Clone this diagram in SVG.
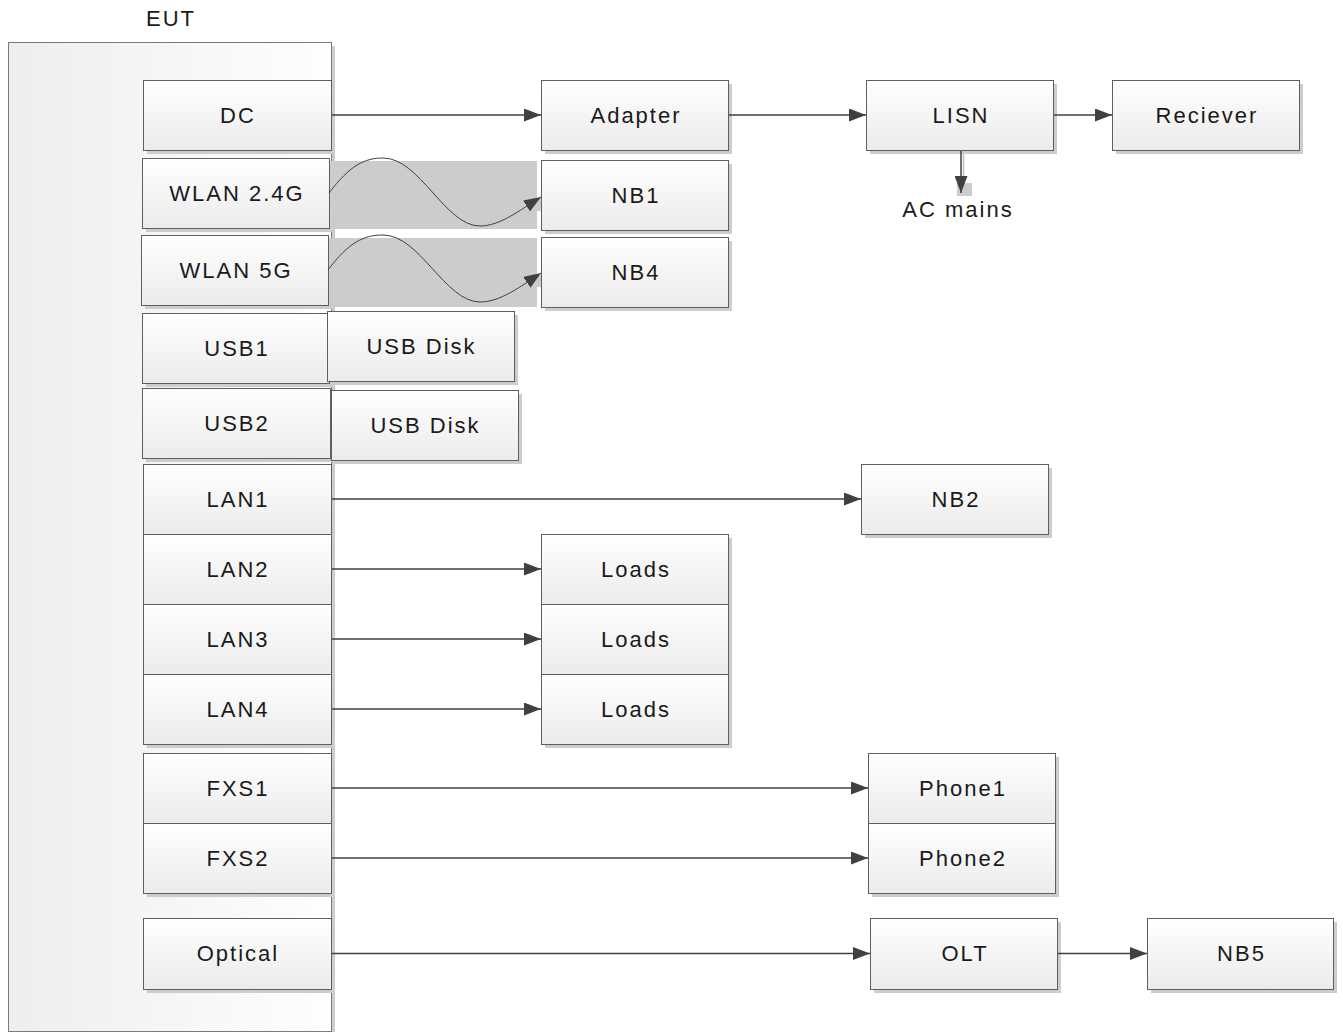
<svg xmlns="http://www.w3.org/2000/svg" width="1343" height="1032" viewBox="0 0 1343 1032">
<defs>
<linearGradient id="g" x1="0" y1="0" x2="0" y2="1"><stop offset="0" stop-color="#ffffff"/><stop offset="1" stop-color="#ebebeb"/></linearGradient>
<linearGradient id="ge" x1="0" y1="0" x2="1" y2="0"><stop offset="0" stop-color="#eeeeee"/><stop offset="1" stop-color="#fefefe"/></linearGradient>
<marker id="a" viewBox="0 0 17 13" refX="17" refY="6.5" markerWidth="17" markerHeight="13" markerUnits="userSpaceOnUse" orient="auto"><path d="M0,0 L17,6.5 L0,13 z" fill="#404040"/></marker>
<style>
.box{fill:url(#g);stroke:#5f5f5f;stroke-width:1}
.sh{fill:#cdcdcd}
.t{font-family:"Liberation Sans",Arial,sans-serif;font-size:22px;letter-spacing:2px;fill:#1a1a1a;text-anchor:middle}
.c{stroke:#404040;stroke-width:1.5;fill:none;marker-end:url(#a)}
.w{stroke:#404040;stroke-width:1;fill:none;marker-end:url(#a)}
.bg{fill:#cccccc}
</style>
</defs>
<rect width="1343" height="1032" fill="#ffffff"/>
<g id="EUT">
<rect class="sh" x="12" y="46" width="323" height="989"/>
<rect x="8.5" y="42.5" width="323" height="989" fill="url(#ge)" stroke="#7a7a7a" stroke-width="1"/>
<text class="t" x="171" y="26">EUT</text>
</g>
<g id="wave-bg">
<rect class="bg" x="329" y="161" width="208" height="68"/>
<rect class="bg" x="537" y="198" width="7" height="13"/>
<rect class="bg" x="328" y="238" width="209" height="69"/>
<rect class="bg" x="537" y="275" width="9" height="12"/>
<rect class="bg" x="957" y="183" width="15" height="13"/>
<line x1="963.5" y1="150" x2="963.5" y2="185" stroke="#bdbdbd" stroke-width="1.5"/>
</g>
<g id="DC"><rect class="sh" x="147" y="84" width="188" height="70"/><rect class="box" x="143.5" y="80.5" width="188" height="70"/><text class="t" x="238" y="123">DC</text></g>
<g id="WLAN24"><rect class="sh" x="146" y="162" width="187" height="70"/><rect class="box" x="142.5" y="158.5" width="187" height="70"/><text class="t" x="237" y="201">WLAN 2.4G</text></g>
<g id="WLAN5"><rect class="sh" x="145" y="239" width="187" height="70"/><rect class="box" x="141.5" y="235.5" width="187" height="70"/><text class="t" x="236" y="278">WLAN 5G</text></g>
<g id="USB1"><rect class="sh" x="146" y="317" width="187" height="70"/><rect class="box" x="142.5" y="313.5" width="187" height="70"/><text class="t" x="237" y="356">USB1</text></g>
<g id="USBDisk1"><rect class="sh" x="331" y="315" width="187" height="70"/><rect class="box" x="327.5" y="311.5" width="187" height="70"/><text class="t" x="421.5" y="354">USB Disk</text></g>
<g id="USB2"><rect class="sh" x="146" y="392" width="188" height="70"/><rect class="box" x="142.5" y="388.5" width="188" height="70"/><text class="t" x="237" y="431">USB2</text></g>
<g id="USBDisk2"><rect class="sh" x="335" y="394" width="187" height="70"/><rect class="box" x="331.5" y="390.5" width="187" height="70"/><text class="t" x="425.5" y="433">USB Disk</text></g>
<g id="LAN1"><rect class="sh" x="147" y="468" width="188" height="70"/><rect class="box" x="143.5" y="464.5" width="188" height="70"/><text class="t" x="238" y="507">LAN1</text></g>
<g id="LAN2"><rect class="sh" x="147" y="538" width="188" height="70"/><rect class="box" x="143.5" y="534.5" width="188" height="70"/><text class="t" x="238" y="577">LAN2</text></g>
<g id="LAN3"><rect class="sh" x="147" y="608" width="188" height="70"/><rect class="box" x="143.5" y="604.5" width="188" height="70"/><text class="t" x="238" y="647">LAN3</text></g>
<g id="LAN4"><rect class="sh" x="147" y="678" width="188" height="70"/><rect class="box" x="143.5" y="674.5" width="188" height="70"/><text class="t" x="238" y="717">LAN4</text></g>
<g id="FXS1"><rect class="sh" x="147" y="757" width="188" height="70"/><rect class="box" x="143.5" y="753.5" width="188" height="70"/><text class="t" x="238" y="796">FXS1</text></g>
<g id="FXS2"><rect class="sh" x="147" y="827" width="188" height="70"/><rect class="box" x="143.5" y="823.5" width="188" height="70"/><text class="t" x="238" y="866">FXS2</text></g>
<g id="Optical"><rect class="sh" x="147" y="922" width="188" height="71"/><rect class="box" x="143.5" y="918.5" width="188" height="71"/><text class="t" x="238" y="961">Optical</text></g>
<g id="Adapter"><rect class="sh" x="545" y="84" width="187" height="70"/><rect class="box" x="541.5" y="80.5" width="187" height="70"/><text class="t" x="636" y="123">Adapter</text></g>
<g id="NB1"><rect class="sh" x="545" y="164" width="187" height="70"/><rect class="box" x="541.5" y="160.5" width="187" height="70"/><text class="t" x="636" y="203">NB1</text></g>
<g id="NB4"><rect class="sh" x="545" y="241" width="187" height="70"/><rect class="box" x="541.5" y="237.5" width="187" height="70"/><text class="t" x="636" y="280">NB4</text></g>
<g id="LISN"><rect class="sh" x="870" y="84" width="187" height="70"/><rect class="box" x="866.5" y="80.5" width="187" height="70"/><text class="t" x="961" y="123">LISN</text></g>
<g id="Reciever"><rect class="sh" x="1116" y="84" width="187" height="70"/><rect class="box" x="1112.5" y="80.5" width="187" height="70"/><text class="t" x="1207" y="123">Reciever</text></g>
<g id="ACmains"><text class="t" x="958" y="217">AC mains</text></g>
<g id="NB2"><rect class="sh" x="865" y="468" width="187" height="70"/><rect class="box" x="861.5" y="464.5" width="187" height="70"/><text class="t" x="956" y="507">NB2</text></g>
<g id="Loads1"><rect class="sh" x="545" y="538" width="187" height="70"/><rect class="box" x="541.5" y="534.5" width="187" height="70"/><text class="t" x="636" y="577">Loads</text></g>
<g id="Loads2"><rect class="sh" x="545" y="608" width="187" height="70"/><rect class="box" x="541.5" y="604.5" width="187" height="70"/><text class="t" x="636" y="647">Loads</text></g>
<g id="Loads3"><rect class="sh" x="545" y="678" width="187" height="70"/><rect class="box" x="541.5" y="674.5" width="187" height="70"/><text class="t" x="636" y="717">Loads</text></g>
<g id="Phone1"><rect class="sh" x="872" y="757" width="187" height="70"/><rect class="box" x="868.5" y="753.5" width="187" height="70"/><text class="t" x="963" y="796">Phone1</text></g>
<g id="Phone2"><rect class="sh" x="872" y="827" width="187" height="70"/><rect class="box" x="868.5" y="823.5" width="187" height="70"/><text class="t" x="963" y="866">Phone2</text></g>
<g id="OLT"><rect class="sh" x="874" y="922" width="187" height="71"/><rect class="box" x="870.5" y="918.5" width="187" height="71"/><text class="t" x="965" y="961">OLT</text></g>
<g id="NB5"><rect class="sh" x="1151" y="922" width="186" height="71"/><rect class="box" x="1147.5" y="918.5" width="186" height="71"/><text class="t" x="1241.5" y="961">NB5</text></g>
<g id="connectors">
<path class="c" d="M332,115 H541"/>
<path class="c" d="M729,115 H866"/>
<path class="c" d="M1054,115 H1112"/>
<path class="c" d="M961,151 V193"/>
<path class="w" d="M329,193 C350,165 365,158 383,158 C420,158 445,226 480,226 C500,226 520,210 541,197"/>
<path class="w" d="M328,270 C349,242 364,235 383,235 C420,235 445,302 480,302 C500,302 520,287 541,273"/>
<path class="c" d="M332,499 H861"/>
<path class="c" d="M332,569 H541"/>
<path class="c" d="M332,639 H541"/>
<path class="c" d="M332,709 H541"/>
<path class="c" d="M332,788 H868"/>
<path class="c" d="M332,858 H868"/>
<path class="c" d="M332,953.5 H870"/>
<path class="c" d="M1058,953.5 H1147"/>
</g>
</svg>
